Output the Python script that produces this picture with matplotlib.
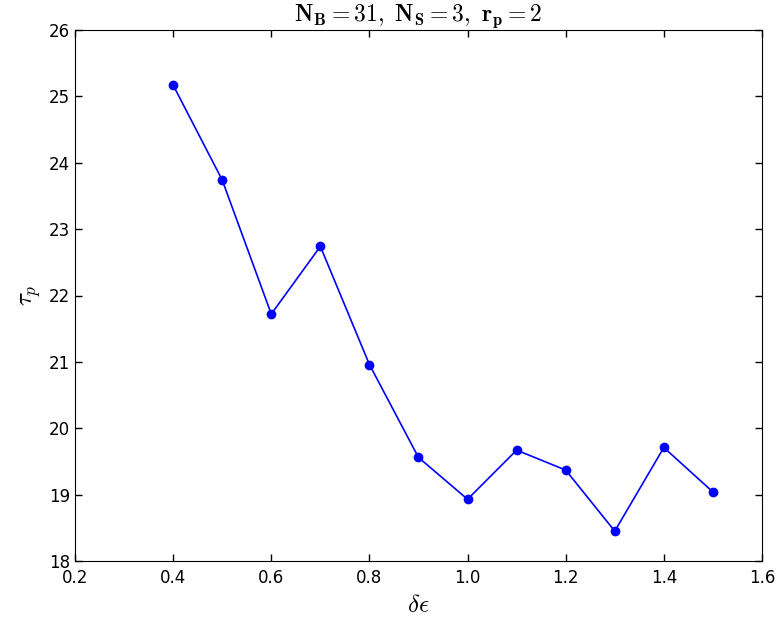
import matplotlib
matplotlib.use('Agg')
import matplotlib.pyplot as plt

# relaxation time vs energy spacing
d_eps = [0.4, 0.5, 0.6, 0.7, 0.8, 0.9, 1.0, 1.1, 1.2, 1.3, 1.4, 1.5]
tau_p = [25.17, 23.74, 21.72, 22.74, 20.96, 19.56, 18.93, 19.67, 19.37, 18.45, 19.71, 19.04]

plt.rcParams['mathtext.fontset'] = 'cm'
plt.rcParams['xtick.direction'] = 'in'
plt.rcParams['ytick.direction'] = 'in'
plt.rcParams['xtick.top'] = True
plt.rcParams['ytick.right'] = True

fig = plt.figure(figsize=(7.78, 6.25), dpi=100)
ax = fig.add_axes([0.0964, 0.1024, 0.8830, 0.8496])
ax.plot(d_eps, tau_p, 'b-', marker='o', markersize=6, markeredgecolor='b', linewidth=1.2)
ax.set_xlim(0.2, 1.6)
ax.set_ylim(18, 26)
ax.tick_params(labelsize=12, length=5, width=1)
ax.tick_params(axis='x', pad=6)
ax.set_xlabel(r'$\delta\epsilon$', fontsize=18)
ax.set_ylabel(r'$\tau_p$', fontsize=18)
ax.set_title(r'$\mathbf{N_B=31,\ N_S=3,\ r_p=2}$', fontsize=17, pad=4)
fig.savefig('out.png', dpi=100)
